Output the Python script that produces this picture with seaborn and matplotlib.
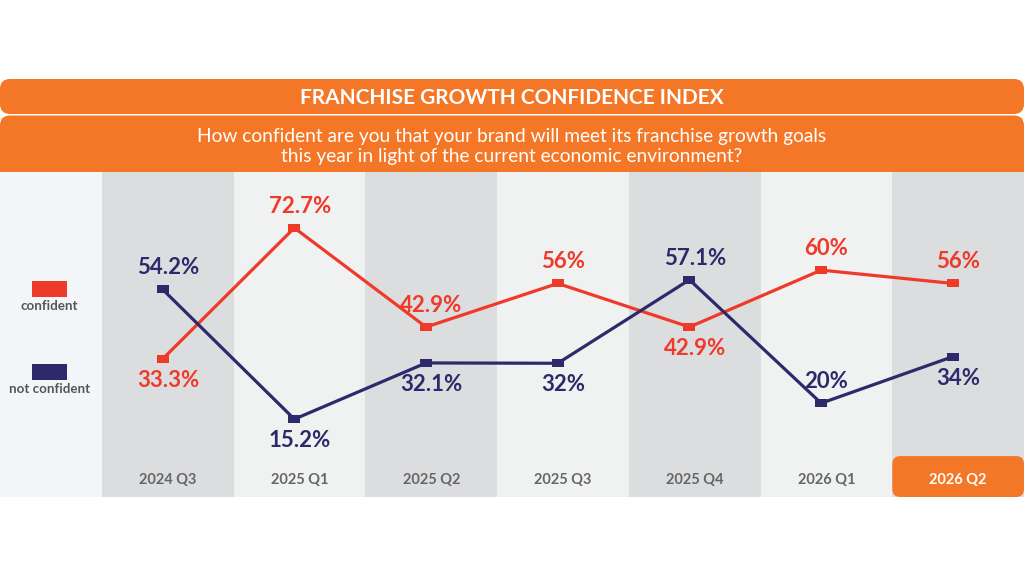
import numpy as np
import pandas as pd
import seaborn as sns
from matplotlib import pyplot as plt
from matplotlib.patches import FancyBboxPatch, Rectangle

quarters = ["2024 Q3", "2025 Q1", "2025 Q2", "2025 Q3", "2025 Q4", "2026 Q1", "2026 Q2"]
confident = [33.3, 72.7, 42.9, 56, 42.9, 60, 56]
not_confident = [54.2, 15.2, 32.1, 32, 57.1, 20, 34]
conf_labels = ["33.3%", "72.7%", "42.9%", "56%", "42.9%", "60%", "56%"]
notconf_labels = ["54.2%", "15.2%", "32.1%", "32%", "57.1%", "20%", "34%"]
# label above (+1) or below (-1) the point
conf_side = [-1, 1, 1, 1, -1, 1, 1]
notconf_side = [1, -1, -1, -1, 1, 1, -1]

title = "FRANCHISE GROWTH CONFIDENCE INDEX"
question = ("How confident are you that your brand will meet its franchise growth goals\n"
            "this year in light of the current economic environment?")

ORANGE = "#f37726"
RED = "#ef3a2a"
NAVY = "#2d2a6c"
GRAY_COL = "#dcdddf"
LIGHT_COL = "#f0f1f1"
PANEL = "#f3f6f9"

sns.set_theme(style="white")
plt.rcParams["font.family"] = ["Lato", "DejaVu Sans"]

df = pd.DataFrame({
    "quarter": quarters * 2,
    "value": confident + not_confident,
    "series": ["confident"] * len(quarters) + ["not confident"] * len(quarters),
})
# points sit a touch left of the column centre in the original
df["pos"] = df["quarter"].map({q: i for i, q in enumerate(quarters)}) - 0.04

# flat rectangle marker
rect_marker = [(-1, -0.58), (1, -0.58), (1, 0.58), (-1, 0.58), (-1, -0.58)]

fig = plt.figure(figsize=(10.24, 5.76), dpi=100)

# header bars drawn in pixel space
bg = fig.add_axes([0, 0, 1, 1], zorder=0)
bg.set_xlim(0, 1024)
bg.set_ylim(576, 0)
bg.axis("off")
bg.add_patch(FancyBboxPatch((0, 79), 1024, 35, boxstyle="round,pad=0,rounding_size=10",
                            fc=ORANGE, ec="none"))
bg.add_patch(FancyBboxPatch((0, 115.5), 1024, 80, boxstyle="round,pad=0,rounding_size=10",
                            fc=ORANGE, ec="none"))
bg.text(512, 98, title, color="white", fontsize=15, fontweight="bold", ha="center", va="center")
bg.text(512, 146.5, question, color="white", fontsize=13.8, ha="center", va="center",
        linespacing=1.2)

# main chart
ax = fig.add_axes([0, 79 / 576, 1, 325 / 576], zorder=1)
ax.axvspan(-1.275, -0.5, color=PANEL, lw=0, zorder=0)
for i in range(len(quarters)):
    ax.axvspan(i - 0.5, i + 0.5, color=GRAY_COL if i % 2 == 0 else LIGHT_COL, lw=0, zorder=0)

sns.lineplot(data=df, x="pos", y="value", hue="series", style="series",
             palette={"confident": RED, "not confident": NAVY},
             markers={"confident": rect_marker, "not confident": rect_marker},
             dashes=False, sort=False, linewidth=2.3, markersize=9,
             markeredgewidth=0, legend=False, ax=ax, zorder=3)
ax.set_xlim(-1.275, 6.5)
ax.set_ylim(-8.2, 89.5)

for vals, labels, sides, col in [(confident, conf_labels, conf_side, RED),
                                 (not_confident, notconf_labels, notconf_side, NAVY)]:
    for i, (v, lab, s) in enumerate(zip(vals, labels, sides)):
        ax.annotate(lab, (i, v), xytext=(0, 15.5 * s), textcoords="offset points",
                    ha="center", va="center", color=col, fontsize=16, fontweight="bold",
                    zorder=4)

# quarter labels along the bottom
last = len(quarters) - 1
ax.add_patch(FancyBboxPatch((last - 0.5, -8.2), 1.0, 12.3,
                            boxstyle="round,pad=0,rounding_size=0.06",
                            mutation_aspect=39.6, fc=ORANGE, ec="none", zorder=2))
for i, q in enumerate(quarters):
    ax.text(i, -3.0, q, ha="center", va="center", fontsize=10.5, fontweight="bold",
            color="white" if i == last else "#666666", zorder=4)

# legend in left panel
ax.add_patch(Rectangle((0.031, 0.615), 0.034, 0.05, transform=ax.transAxes,
                       fc=RED, ec="none", zorder=3))
ax.text(0.048, 0.588, "confident", transform=ax.transAxes, ha="center", va="center",
        fontsize=9.6, fontweight="bold", color="#555555")
ax.add_patch(Rectangle((0.031, 0.36), 0.034, 0.05, transform=ax.transAxes,
                       fc=NAVY, ec="none", zorder=3))
ax.text(0.048, 0.332, "not confident", transform=ax.transAxes, ha="center", va="center",
        fontsize=9.6, fontweight="bold", color="#555555")

ax.set_xlabel("")
ax.set_ylabel("")
ax.set_xticks([])
ax.set_yticks([])
for sp in ax.spines.values():
    sp.set_visible(False)

fig.savefig("out.png", dpi=100)
